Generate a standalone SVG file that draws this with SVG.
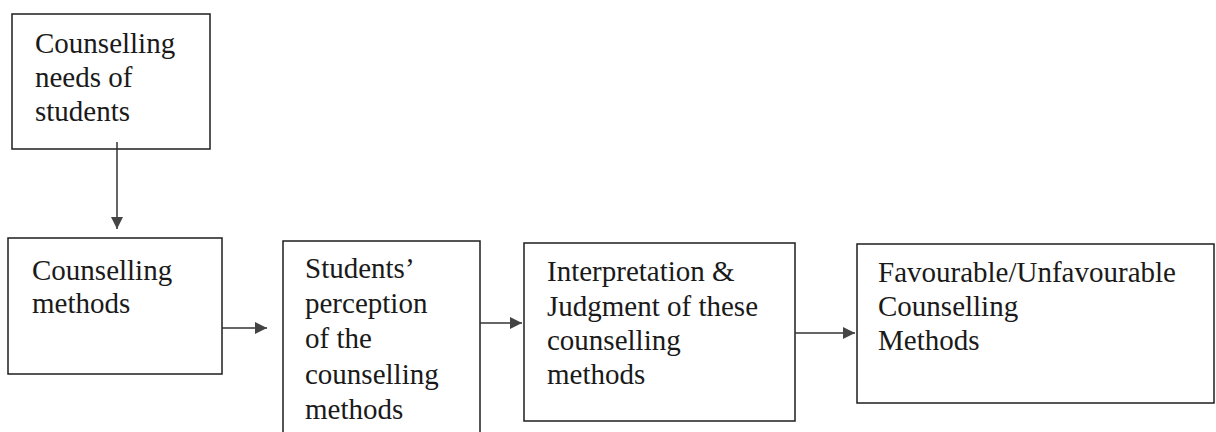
<svg xmlns="http://www.w3.org/2000/svg" width="1216" height="432" viewBox="0 0 1216 432">
  <style>
    .box { fill: #ffffff; stroke: #1e1e1e; stroke-width: 1.5; }
    .lbl { font-family: "Liberation Serif", "Times New Roman", serif; font-size: 29px; fill: #1a1a1a; }
    .conn { stroke: #333333; stroke-width: 1.5; fill: none; }
  </style>
  <defs>
    <marker id="arr" viewBox="0 0 12 12" refX="12" refY="6" markerWidth="12" markerHeight="12" markerUnits="userSpaceOnUse" orient="auto">
      <path d="M0,0 L12,6 L0,12 Z" fill="#444444"/>
    </marker>
  </defs>
  <rect width="1216" height="432" fill="#ffffff"/>

  <g id="n1">
    <rect class="box" x="12" y="14" width="198" height="135"/>
    <text class="lbl" x="35" y="53">Counselling</text>
    <text class="lbl" x="35" y="87">needs of</text>
    <text class="lbl" x="35" y="121">students</text>
  </g>
  <g id="n2">
    <rect class="box" x="8" y="238" width="214" height="136"/>
    <text class="lbl" x="32" y="280">Counselling</text>
    <text class="lbl" x="32" y="313">methods</text>
  </g>
  <g id="n3">
    <rect class="box" x="283" y="241" width="197" height="200"/>
    <text class="lbl" x="305" y="278">Students’</text>
    <text class="lbl" x="305" y="313">perception</text>
    <text class="lbl" x="305" y="348">of the</text>
    <text class="lbl" x="305" y="384">counselling</text>
    <text class="lbl" x="305" y="419">methods</text>
  </g>
  <g id="n4">
    <rect class="box" x="524" y="243" width="271" height="178"/>
    <text class="lbl" x="547" y="281">Interpretation &amp;</text>
    <text class="lbl" x="547" y="316">Judgment of these</text>
    <text class="lbl" x="547" y="350">counselling</text>
    <text class="lbl" x="547" y="384">methods</text>
  </g>
  <g id="n5">
    <rect class="box" x="857" y="244" width="357" height="159"/>
    <text class="lbl" x="878" y="282">Favourable/Unfavourable</text>
    <text class="lbl" x="878" y="316">Counselling</text>
    <text class="lbl" x="878" y="350">Methods</text>
  </g>

  <g id="connectors">
    <line class="conn" x1="117" y1="142" x2="117" y2="229" marker-end="url(#arr)"/>
    <line class="conn" x1="222" y1="328" x2="267" y2="328" marker-end="url(#arr)"/>
    <line class="conn" x1="480" y1="323" x2="522" y2="323" marker-end="url(#arr)"/>
    <line class="conn" x1="795" y1="333" x2="855" y2="333" marker-end="url(#arr)"/>
  </g>
</svg>
